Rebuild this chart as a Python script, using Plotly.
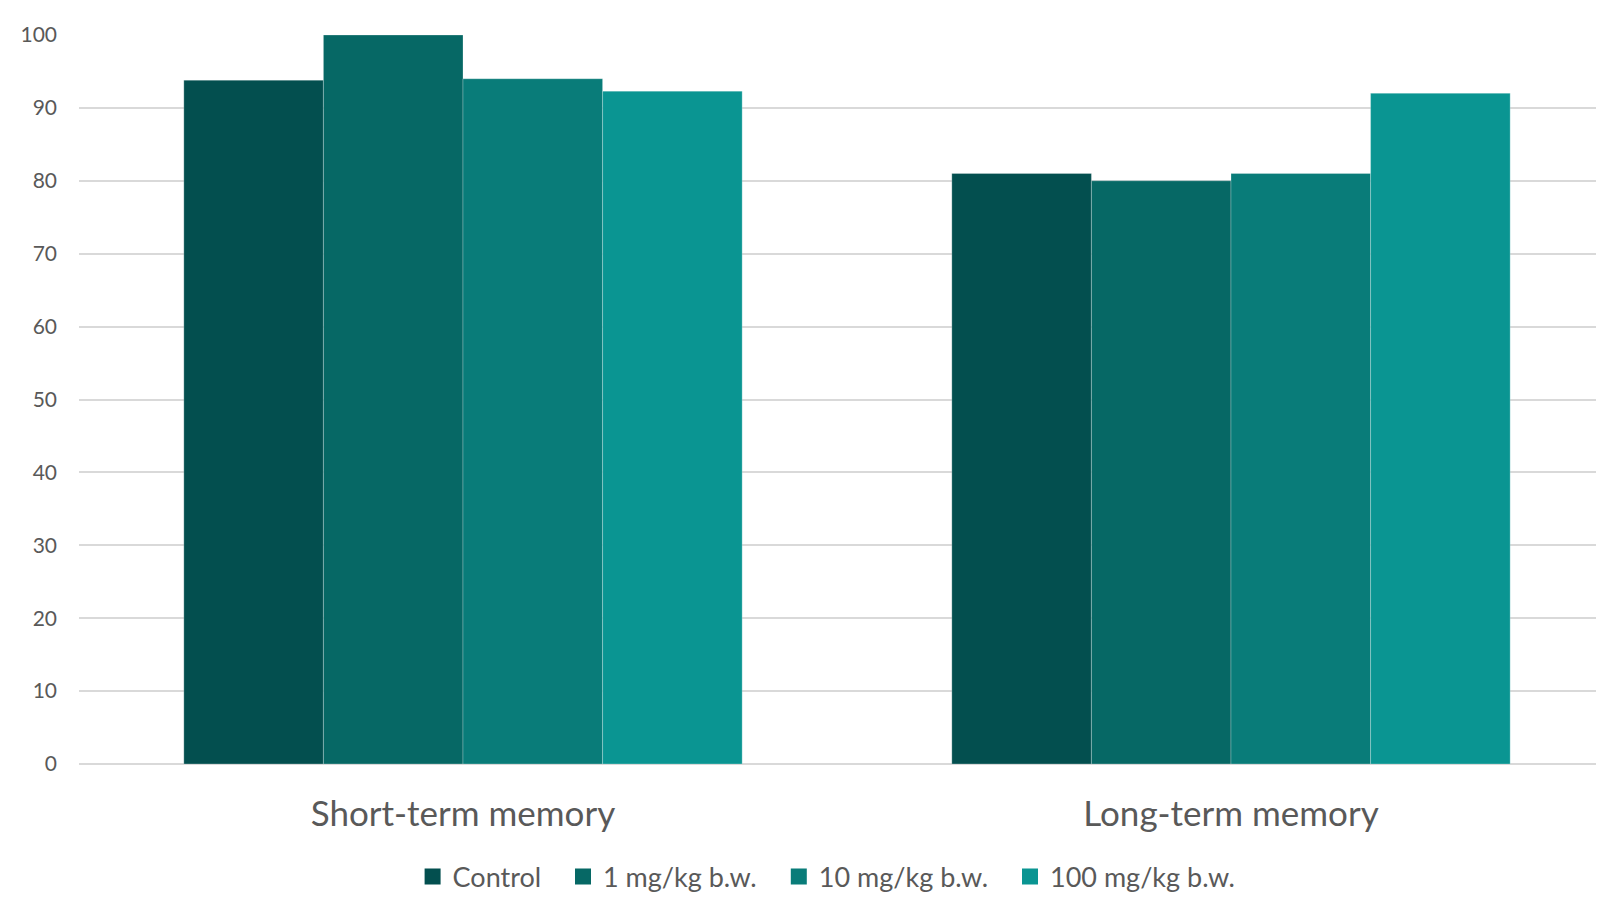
import plotly.graph_objects as go

categories = ["Short-term memory", "Long-term memory"]
series_names = ["Control", "1 mg/kg b.w.", "10 mg/kg b.w.", "100 mg/kg b.w."]
control = [93.8, 81.0]
dose_1 = [100.0, 80.0]
dose_10 = [94.0, 81.0]
dose_100 = [92.3, 92.0]
colors = ["#034F4F", "#066865", "#097C79", "#0A9592"]
y_ticks = [0, 10, 20, 30, 40, 50, 60, 70, 80, 90, 100]

font_family = "Lato, 'Open Sans', sans-serif"
legend_names = ["legend", "legend2", "legend3", "legend4"]
legend_x_px = [406.6, 557.0, 772.8, 1004.0]

fig = go.Figure()
for name, vals, col, lg in zip(series_names, [control, dose_1, dose_10, dose_100], colors, legend_names):
    fig.add_trace(go.Bar(
        name=name, x=categories, y=vals, showlegend=False,
        marker=dict(color=col, line=dict(color="rgba(255,255,255,0.25)", width=1)),
    ))
    # legend entry (square swatch)
    fig.add_trace(go.Scatter(
        name=name, x=[None], y=[None], mode="markers", legend=lg,
        marker=dict(symbol="square", size=16, color=col), showlegend=True,
    ))

W, H = 1604, 890
L = 71
legend_common = dict(
    orientation="h", xref="container", yref="container",
    y=1 - 869 / H, yanchor="middle", xanchor="left",
    font=dict(size=27, color="#595959", family=font_family),
    bgcolor="rgba(0,0,0,0)", borderwidth=0,
)
legend_layout = {}
for lg, lx in zip(legend_names, legend_x_px):
    legend_layout[lg] = dict(legend_common, x=(lx - 2) / W)

fig.update_layout(
    width=W, height=H,
    margin=dict(l=L, r=0, t=27, b=H - 756),
    paper_bgcolor="white", plot_bgcolor="white",
    barmode="group", bargap=0.273, bargroupgap=0,
    font=dict(family=font_family, color="#595959"),
    showlegend=True,
    xaxis=dict(
        range=[-0.5, -0.5 + (W - L) / 768], showgrid=False, zeroline=False,
        showline=False, ticks="", tickfont=dict(size=35, color="#595959"),
        ticklabelstandoff=26,
    ),
    yaxis=dict(
        range=[0, 100], tickvals=y_ticks, showgrid=True, gridcolor="#D9D9D9",
        gridwidth=1.5, zeroline=True, zerolinecolor="#D9D9D9", zerolinewidth=1.5,
        showline=False, ticks="", tickfont=dict(size=21, color="#595959"),
        ticklabelstandoff=21,
    ),
    **legend_layout,
)

fig.write_html("out.html")
